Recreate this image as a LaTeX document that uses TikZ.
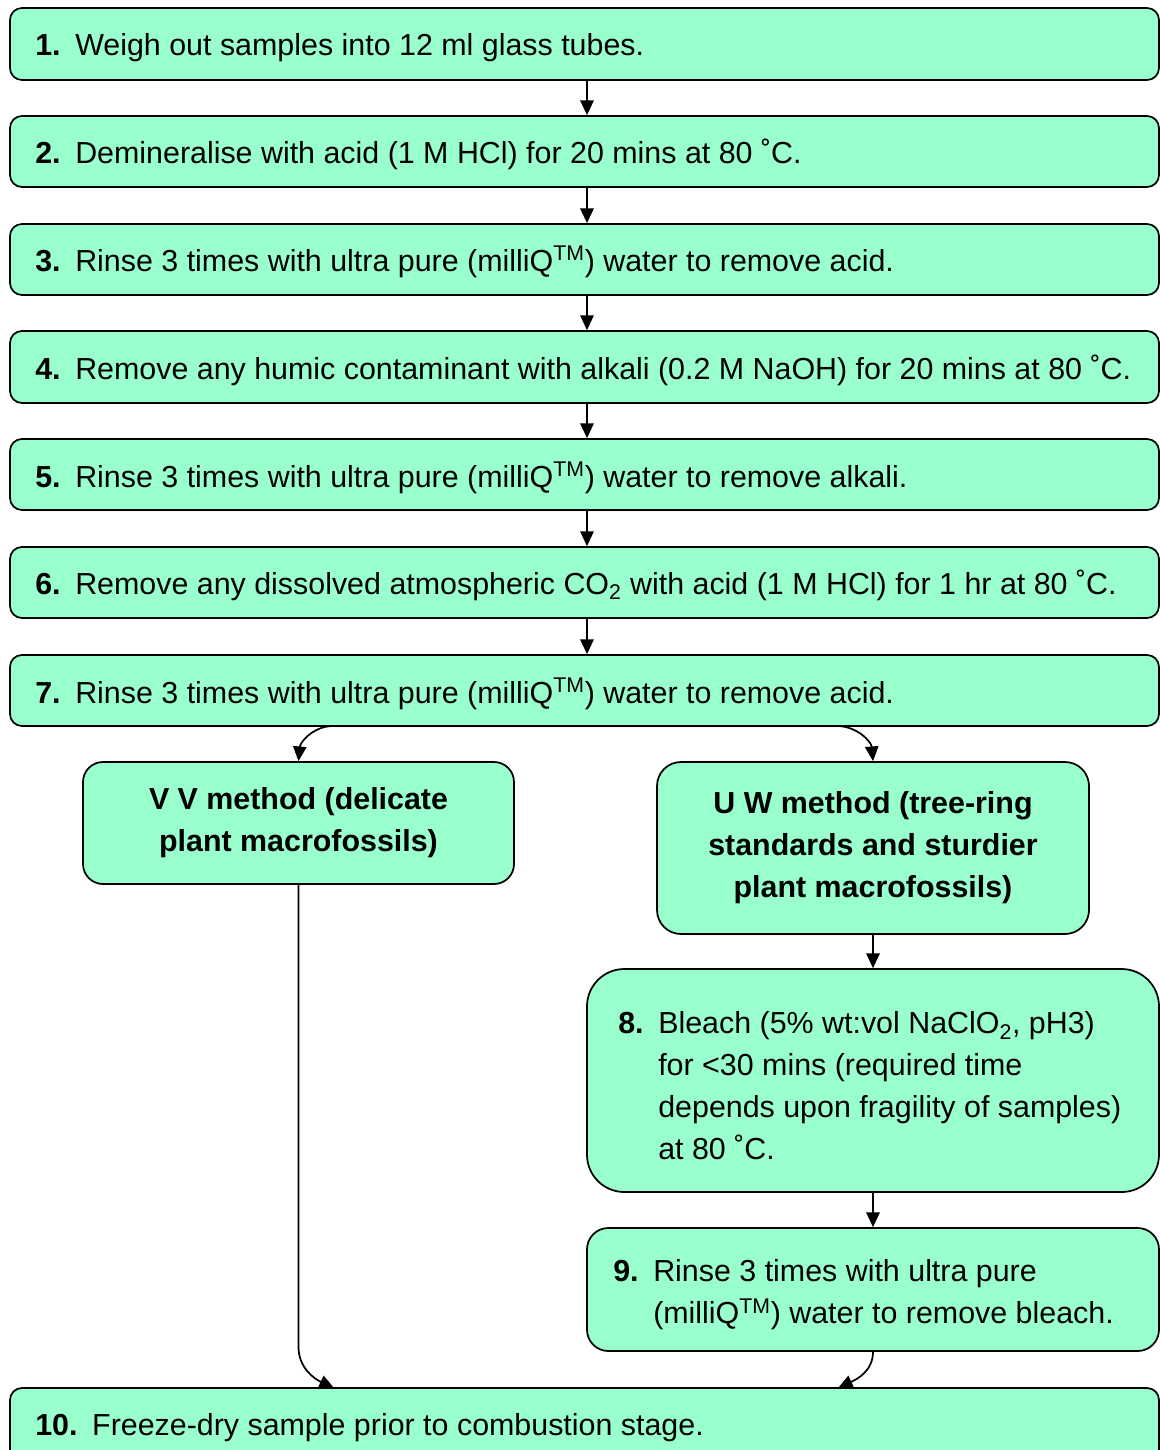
\documentclass[tikz,border=0pt]{standalone}
\usepackage{fontspec}
\setmainfont{Liberation Sans}
\usetikzlibrary{arrows.meta,fit}
\definecolor{mint}{RGB}{153,255,204}
\tikzset{
  stepbox/.style={draw=black, line width=1.3pt, fill=mint, rounded corners=9pt, inner sep=0pt},
  txt/.style={anchor=base west, inner sep=0pt, font=\fontsize{22.8}{31.5}\selectfont},
  mtxt/.style={anchor=west, inner sep=0pt, align=left, font=\fontsize{22.8}{31.5}\selectfont},
  ctxt/.style={inner sep=0pt, align=center, font=\fontsize{22.8}{31.5}\selectfont\bfseries},
  flow/.style={line width=1.3pt, -{Triangle[length=11pt,width=10pt]}},
}
\newcommand{\stepnum}[1]{\textbf{#1}\hspace{11pt}}
\newcommand{\tm}{\textsuperscript{TM}}
\begin{document}
\begin{tikzpicture}[x=0.75pt,y=0.75pt]
\useasboundingbox (0,0) rectangle (1160,-1450);
\clip (0,0) rectangle (1160,-1450);
\coordinate (ax) at (587,0);
% step boxes
\node[stepbox, fit={(10,-8) (1159,-80)}] (s1) {};
\node[stepbox, fit={(10,-116) (1159,-187)}] (s2) {};
\node[stepbox, fit={(10,-224) (1159,-295)}] (s3) {};
\node[stepbox, fit={(10,-331) (1159,-403)}] (s4) {};
\node[stepbox, fit={(10,-439) (1159,-510)}] (s5) {};
\node[stepbox, fit={(10,-547) (1159,-618)}] (s6) {};
\node[stepbox, fit={(10,-655) (1159,-726)}] (s7) {};
\node[stepbox, rounded corners=15pt, fit={(83,-762) (514,-884)}] (vv) {};
\node[stepbox, rounded corners=18pt, fit={(657,-762) (1089,-934)}] (uw) {};
\node[stepbox, rounded corners=28pt, fit={(587,-969) (1159,-1192)}] (s8) {};
\node[stepbox, rounded corners=16pt, fit={(587,-1228) (1159,-1351)}] (s9) {};
\node[stepbox, fit={(10,-1388) (1159,-1480)}] (s10) {};
% texts
\node[txt] (t1) at (35,-55) {\stepnum{1.}Weigh out samples into 12 ml glass tubes.};
\node[txt] (t2) at (35,-163) {\stepnum{2.}Demineralise with acid (1 M HCl) for 20 mins at 80 ˚C.};
\node[txt] (t3) at (35,-271) {\stepnum{3.}Rinse 3 times with ultra pure (milliQ\tm) water to remove acid.};
\node[txt] (t4) at (35,-379) {\stepnum{4.}Remove any humic contaminant with alkali (0.2 M NaOH) for 20 mins at 80 ˚C.};
\node[txt] (t5) at (35,-487) {\stepnum{5.}Rinse 3 times with ultra pure (milliQ\tm) water to remove alkali.};
\node[txt] (t6) at (35,-594) {\stepnum{6.}Remove any dissolved atmospheric CO\textsubscript{2} with acid (1 M HCl) for 1 hr at 80 ˚C.};
\node[txt] (t7) at (35,-703) {\stepnum{7.}Rinse 3 times with ultra pure (milliQ\tm) water to remove acid.};
\node[ctxt] (tvv) at (vv.center) {V V method (delicate\\plant macrofossils)};
\node[ctxt] (tuw) at (uw.center) {U W method (tree-ring\\standards and sturdier\\plant macrofossils)};
\node[mtxt] (t8) at (618,-1086) {\stepnum{8.}Bleach (5\% wt:vol NaClO\textsubscript{2}, pH3)\\
  \phantom{\textbf{8.}}\hspace{11pt}for <30 mins (required time\\
  \phantom{\textbf{8.}}\hspace{11pt}depends upon fragility of samples)\\
  \phantom{\textbf{8.}}\hspace{11pt}at 80 ˚C.};
\node[mtxt] (t9) at (613,-1295) {\stepnum{9.}Rinse 3 times with ultra pure\\
  \phantom{\textbf{9.}}\hspace{11pt}(milliQ\tm) water to remove bleach.};
\node[txt] (t10) at (35,-1435) {\stepnum{10.}Freeze-dry sample prior to combustion stage.};
% connectors
\draw[flow] (s1.south -| ax) -- (s2.north -| ax);
\draw[flow] (s2.south -| ax) -- (s3.north -| ax);
\draw[flow] (s3.south -| ax) -- (s4.north -| ax);
\draw[flow] (s4.south -| ax) -- (s5.north -| ax);
\draw[flow] (s5.south -| ax) -- (s6.north -| ax);
\draw[flow] (s6.south -| ax) -- (s7.north -| ax);
\coordinate (l1) at (333,-726);
\coordinate (r1) at (837,-726);
\draw[flow] (l1) to[out=180,in=85] (vv.north);
\draw[flow] (r1) to[out=0,in=95] (uw.north);
\draw[flow] (uw.south) -- (s8.north -| uw.south);
\draw[flow] (s8.south -| uw.south) -- (s9.north -| uw.south);
\coordinate (l2) at (334,-1388);
\coordinate (r2) at (838,-1388);
\draw[flow] (vv.south) -- ++(0,-462) to[out=-90,in=155] (l2);
\draw[flow] (s9.south) to[out=-90,in=25] (r2);
\end{tikzpicture}
\end{document}
